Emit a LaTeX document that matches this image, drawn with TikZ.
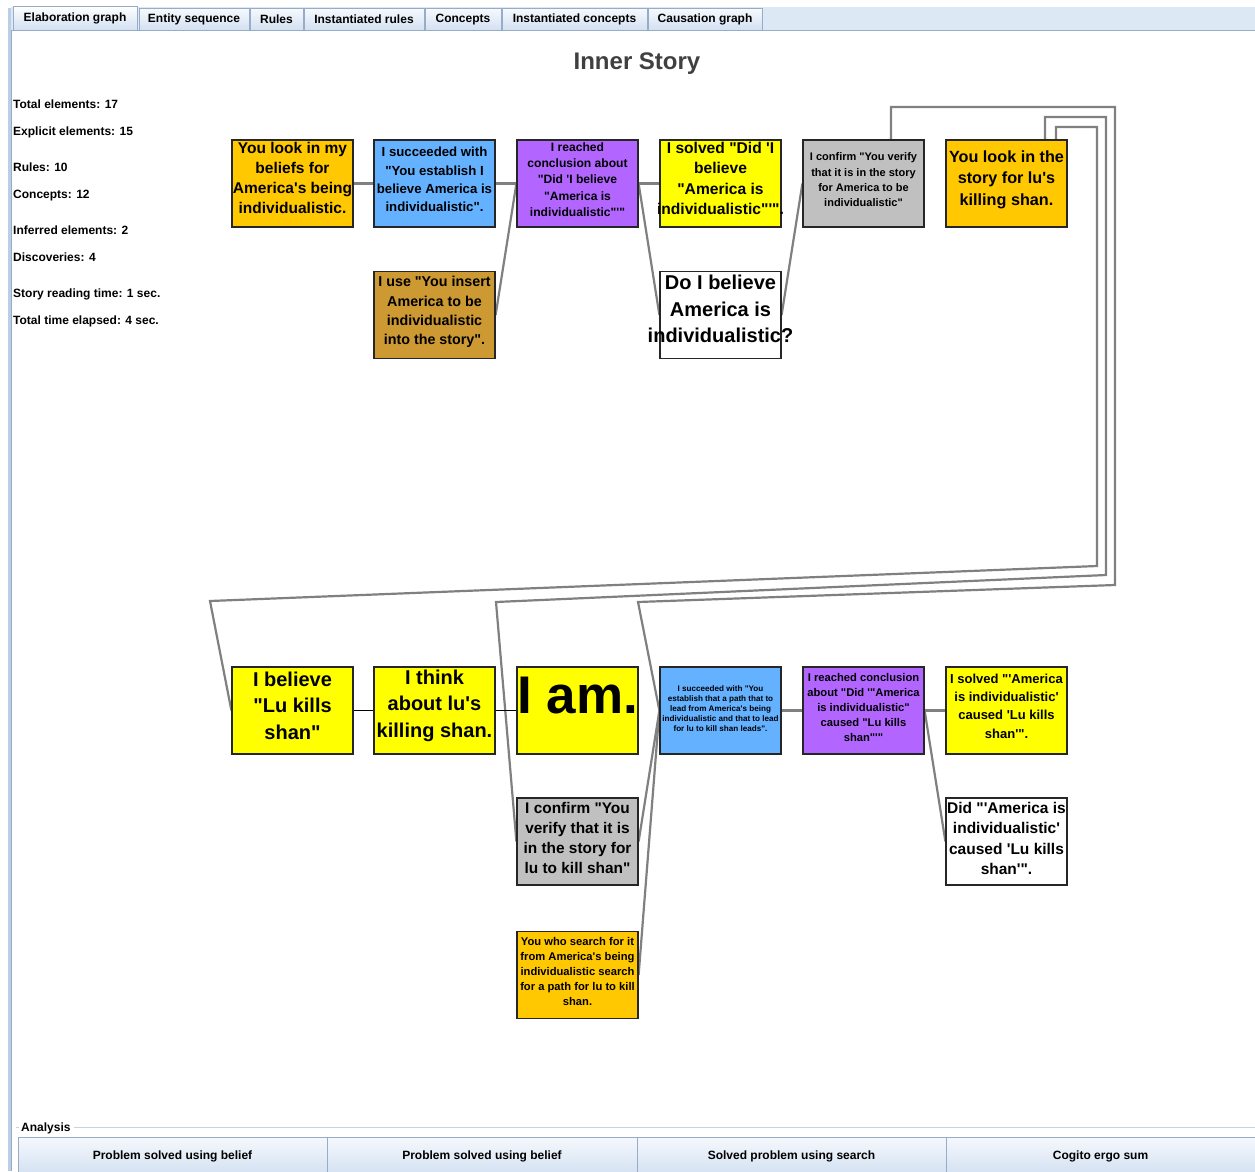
\documentclass[tikz,border=0pt]{standalone}
\usepackage{fontspec}
\usetikzlibrary{backgrounds}
\newfontfamily\arial{Liberation Sans}
\newcommand\fsz[2]{\fontsize{#1}{#2}\selectfont}
\definecolor{boxorange}{RGB}{255,200,0}
\definecolor{boxblue}{RGB}{99,177,255}
\definecolor{boxpurple}{RGB}{178,102,255}
\definecolor{boxyellow}{RGB}{255,255,0}
\definecolor{boxgray}{RGB}{192,192,192}
\definecolor{boxbrown}{RGB}{204,153,51}
\definecolor{linkgray}{RGB}{128,128,128}
\definecolor{tabtop}{RGB}{246,249,253}
\definecolor{tabbot}{RGB}{210,224,241}
\definecolor{tabedge}{RGB}{150,172,200}
\definecolor{bandblue}{RGB}{221,232,245}
\definecolor{titlegray}{RGB}{64,64,64}
\definecolor{frameblue}{RGB}{188,206,230}
\definecolor{rulegray}{RGB}{200,212,227}
\begin{document}
\begin{tikzpicture}[x=1pt,y=-1pt,font=\arial,
  box/.style={draw=black!85,line width=1.2pt,minimum width=121pt,minimum height=87pt,inner sep=0pt},
  boxtext/.style 2 args={align=center,inner sep=0pt,font=\arial\bfseries\fsz{#1}{#2}},
  link/.style={draw=linkgray,line width=2.2pt},
  blink/.style={draw=black,line width=1.5pt},
  stat/.style={anchor=base west,inner sep=0pt,font=\arial\bfseries\fsz{12}{14}},
  tab/.style={draw=tabedge,line width=0.8pt,top color=tabtop,bottom color=tabbot,inner sep=0pt,minimum height=22pt,font=\arial\bfseries\fsz{12}{14}},
  btn/.style={draw=tabedge,line width=0.8pt,top color=tabtop,bottom color=tabbot,inner sep=0pt,minimum height=38pt,font=\arial\bfseries\fsz{12}{14}}]
\useasboundingbox (0,0) rectangle (1255,1171);
\begin{scope}[on background layer]
  \fill[white] (0,0) rectangle (1255,1171);
\end{scope}

% window frame and tab strip
\fill[frameblue] (8,8) rectangle (11,1171);
\draw[tabedge,line width=0.6pt] (11,30) -- (11,1171);
\fill[bandblue] (11,7) rectangle (1255,31);
\draw[tabedge,line width=0.8pt] (11,30.5) -- (1255,30.5);
\node[tab,minimum width=124pt,minimum height=24pt,top color=white] (t1) at (75,18) {Elaboration graph};
\node[tab,minimum width=110pt] (t2) at (194,19.5) {Entity sequence};
\node[tab,minimum width=53pt] (t3) at (276.5,19.5) {Rules};
\node[tab,minimum width=120pt] (t4) at (364,19.5) {Instantiated rules};
\node[tab,minimum width=76pt] (t5) at (463,19.5) {Concepts};
\node[tab,minimum width=145pt] (t6) at (574.5,19.5) {Instantiated concepts};
\node[tab,minimum width=114pt] (t7) at (705,19.5) {Causation graph};

% heading and statistics
\node[anchor=base,inner sep=0pt,text=titlegray,font=\arial\bfseries\fsz{24}{28}] (title) at (637,69) {Inner Story};
\node[stat] (s1) at (13,108.5) {Total elements: 17};
\node[stat] (s2) at (13,135.5) {Explicit elements: 15};
\node[stat] (s3) at (13,171.5) {Rules: 10};
\node[stat] (s4) at (13,198.5) {Concepts: 12};
\node[stat] (s5) at (13,234.5) {Inferred elements: 2};
\node[stat] (s6) at (13,261.5) {Discoveries: 4};
\node[stat] (s7) at (13,297.5) {Story reading time: 1 sec.};
\node[stat] (s8) at (13,324.5) {Total time elapsed: 4 sec.};

% upper chain
\node[box,fill=boxorange] (a1) at (292.5,183.5) {};
\node[box,fill=boxblue] (a2) at (434.5,183.5) {};
\node[box,fill=boxpurple] (a3) at (577.5,183.5) {};
\node[box,fill=boxyellow] (a4) at (720.5,183.5) {};
\node[box,fill=boxgray] (a5) at (863.5,183.5) {};
\node[box,fill=boxorange] (a6) at (1006.5,183.5) {};
\node[box,fill=boxbrown] (b1) at (434.5,315) {};
\node[box,fill=white] (b2) at (720.5,315) {};

\node[boxtext={15.5}{20}] (a1t) at ([yshift=6pt]a1.center) {You look in my\\beliefs for\\America's being\\individualistic.};
\node[boxtext={13.2}{18.3}] (a2t) at ([yshift=4pt]a2.center) {I succeeded with\\"You establish I\\believe America is\\individualistic".};
\node[boxtext={12.1}{16.3}] (a3t) at ([yshift=4pt]a3.center) {I reached\\conclusion about\\"Did 'I believe\\"America is\\individualistic"'"};
\node[boxtext={15.6}{20.6}] (a4t) at ([yshift=5pt]a4.center) {I solved "Did 'I\\believe\\"America is\\individualistic"'".};
\node[boxtext={11}{15.3}] (a5t) at ([yshift=3.5pt]a5.center) {I confirm "You verify\\that it is in the story\\for America to be\\individualistic"};
\node[boxtext={16.2}{21.5}] (a6t) at ([yshift=4pt]a6.center) {You look in the\\story for lu's\\killing shan.};
\node[boxtext={14.3}{19.3}] (b1t) at ([yshift=3pt]b1.center) {I use "You insert\\America to be\\individualistic\\into the story".};
\node[boxtext={20}{26.5}] (b2t) at ([yshift=6pt]b2.center) {Do I believe\\America is\\individualistic?};

% lower chain
\node[box,fill=boxyellow] (c1) at (292.5,710.5) {};
\node[box,fill=boxyellow] (c2) at (434.5,710.5) {};
\node[box,fill=boxyellow] (c3) at (577.5,710.5) {};
\node[box,fill=boxblue] (c4) at (720.5,710.5) {};
\node[box,fill=boxpurple] (c5) at (863.5,710.5) {};
\node[box,fill=boxyellow] (c6) at (1006.5,710.5) {};
\node[box,fill=boxgray] (d1) at (577.5,841.5) {};
\node[box,fill=white] (d2) at (1006.5,841.5) {};
\node[box,fill=boxorange] (e1) at (577.5,975) {};

\node[boxtext={20}{26.5}] (c1t) at ([yshift=5pt]c1.center) {I believe\\"Lu kills\\shan"};
\node[boxtext={20}{26.5}] (c2t) at ([yshift=5pt]c2.center) {I think\\about lu's\\killing shan.};
\node[boxtext={53}{60},anchor=base] (c3t) at ([yshift=-2.5pt]c3.center) {I am.};
\node[boxtext={8.1}{10.1}] (c4t) at ([yshift=2pt]c4.center) {I succeeded with "You\\establish that a path that to\\lead from America's being\\individualistic and that to lead\\for lu to kill shan leads".};
\node[boxtext={11.2}{15}] (c5t) at ([yshift=3pt]c5.center) {I reached conclusion\\about "Did '"America\\is individualistic"\\caused "Lu kills\\shan"'"};
\node[boxtext={13}{18.3}] (c6t) at ([yshift=4.5pt]c6.center) {I solved "'America\\is individualistic'\\caused 'Lu kills\\shan'".};
\node[boxtext={15.4}{20.3}] (d1t) at ([yshift=3.5pt]d1.center) {I confirm "You\\verify that it is\\in the story for\\lu to kill shan"};
\node[boxtext={15.5}{20.5}] (d2t) at ([yshift=3pt]d2.center) {Did "'America is\\individualistic'\\caused 'Lu kills\\shan'".};
\node[boxtext={11.2}{15}] (e1t) at ([yshift=4pt]e1.center) {You who search for it\\from America's being\\individualistic search\\for a path for lu to kill\\shan.};

% connectors, kept behind the boxes
\begin{scope}[on background layer]
  \draw[link] (a1.east) -- (a2.west);
  \draw[link] (a2.east) -- (a3.west);
  \draw[link] (a3.east) -- (a4.west);
  \draw[link] (b1.east) -- (a3.west);
  \draw[link] (a3.east) -- (b2.west);
  \draw[link] (b2.east) -- (a5.west);
  \draw[link] ([xshift=27.5pt]a5.north) |- (1115,107) -- (1115,585) -- (638,602) -- (c4.west);
  \draw[link] ([xshift=38.5pt]a6.north) |- (1106,117) -- (1106,575) -- (496,602) -- (d1.west);
  \draw[link] ([xshift=49.5pt]a6.north) |- (1097,127) -- (1097,566) -- (210,601) -- (c1.west);
  \draw[blink] (c1.east) -- (c2.west);
  \draw[blink] (c2.east) -- (c3.west);
  \draw[link] (c4.east) -- (c5.west);
  \draw[link] (c5.east) -- (c6.west);
  \draw[link] (c5.east) -- (d2.west);
  \draw[link] (d1.east) -- (c4.west);
  \draw[link] (e1.east) -- (c4.west);
\end{scope}

% analysis panel
\node[anchor=base west,inner sep=0pt,font=\arial\bfseries\fsz{12}{14}] (an) at (21,1131) {Analysis};
\draw[rulegray,line width=1pt] (16,1127) -- (19,1127);
\draw[rulegray,line width=1pt] (an.east |- 0,1127) ++(3,0) -- (1255,1127);
\node[btn,minimum width=309pt] (k1) at (172.5,1156) {Problem solved using belief};
\node[btn,minimum width=310pt] (k2) at (482,1156) {Problem solved using belief};
\node[btn,minimum width=309pt] (k3) at (791.5,1156) {Solved problem using search};
\node[btn,minimum width=309pt] (k4) at (1100.5,1156) {Cogito ergo sum};
\end{tikzpicture}
\end{document}
